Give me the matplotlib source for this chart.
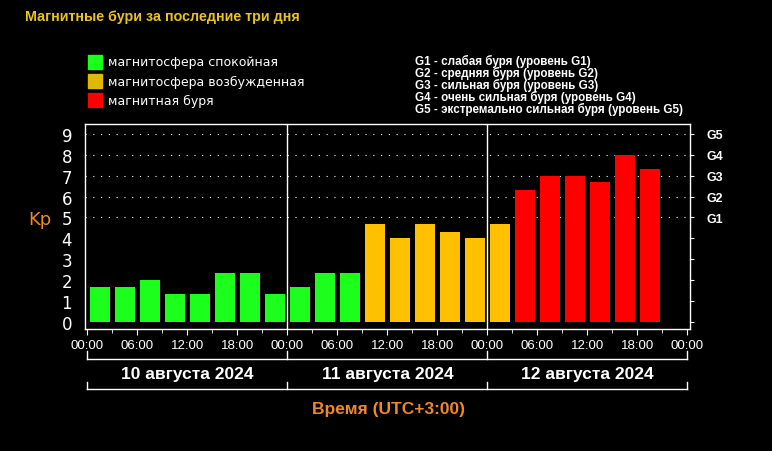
import matplotlib
matplotlib.use('Agg')
import matplotlib.pyplot as plt
from matplotlib.patches import Rectangle
import numpy as np

# Kp-индекс по трёхчасовым интервалам (UTC+3)
kp_day1 = [1.67, 1.67, 2.0, 1.33, 1.33, 2.33, 2.33, 1.33]
kp_day2 = [1.67, 2.33, 2.33, 4.67, 4.0, 4.67, 4.33, 4.0]
kp_day3 = [4.67, 6.33, 7.0, 7.0, 6.67, 8.0, 7.33]
day_labels = ['10 августа 2024', '11 августа 2024', '12 августа 2024']
hour_labels = ['00:00', '06:00', '12:00', '18:00']
g_labels = ['G1', 'G2', 'G3', 'G4', 'G5']
legend_labels = ['магнитосфера спокойная', 'магнитосфера возбужденная', 'магнитная буря']
g_legend = ['G1 - слабая буря (уровень G1)',
            'G2 - средняя буря (уровень G2)',
            'G3 - сильная буря (уровень G3)',
            'G4 - очень сильная буря (уровень G4)',
            'G5 - экстремально сильная буря (уровень G5)']

GREEN = '#1cff1c'
YELLOW = '#ffc000'
RED = '#ff0000'
ORANGE = '#f0882a'

W, H = 772, 452


def px(x, y):
    # пиксели картинки -> координаты фигуры
    return x / W, 1 - y / H


def kp_color(v):
    if v >= 5:
        return RED
    if v >= 4:
        return YELLOW
    return GREEN


kp = kp_day1 + kp_day2 + kp_day3
hours = 1.5 + 3 * np.arange(len(kp))
colors = [kp_color(v) for v in kp]

fig = plt.figure(figsize=(W / 100, H / 100), dpi=100, facecolor='black')
x0, y0 = px(84.7, 330)
x1, y1 = px(690, 125)
ax = fig.add_axes([x0, y0, x1 - x0, y1 - y0], facecolor='black')

ax.bar(hours, kp, width=2.4, color=colors, zorder=3)

for lvl in range(5, 10):
    ax.axhline(lvl, color='white', lw=0.8, linestyle=(0, (1, 6)), zorder=1)
for d in (24, 48):
    ax.axvline(d, color='white', lw=1, zorder=4)

ax.set_xlim(-0.3, 72.3)
ax.set_ylim(-0.32, 9.46)

for sp in ax.spines.values():
    sp.set_color('white')
    sp.set_linewidth(1)

ax.set_yticks(range(10))
ax.tick_params(axis='y', left=True, length=0, pad=9, labelcolor='white',
               labelsize=12)
ax.set_xticks(np.arange(0, 73, 6))
ax.set_xticklabels(hour_labels * 3 + ['00:00'])
ax.set_xticks(np.arange(0, 73, 3), minor=True)
ax.tick_params(axis='x', which='major', length=4, color='white', pad=3.5,
               labelcolor='white', labelsize=9.5)
ax.tick_params(axis='x', which='minor', length=3, color='white')
for lab in ax.get_xticklabels():
    lab.set_fontfamily('Liberation Sans')

ax2 = ax.twinx()
ax2.set_ylim(ax.get_ylim())
ax2.set_yticks(range(10))
ax2.set_yticklabels([''] * 5 + g_labels)
ax2.tick_params(axis='y', length=3, color='white', pad=9, labelcolor='white',
                labelsize=9)
for lab in ax2.get_yticklabels():
    lab.set_fontfamily('Liberation Sans')
    lab.set_fontweight('bold')
for sp in ax2.spines.values():
    sp.set_visible(False)

# скобки с датами под осью
xt = ax.get_xaxis_transform()
ax_h = 330 - 125
for top, bot in ((352, 360), (383, 390)):
    yb = (330 - bot) / ax_h
    yt = (330 - top) / ax_h
    ax.plot([0, 72], [yb, yb], color='white', lw=1, transform=xt, clip_on=False)
    for d in (0, 24, 48, 72):
        ax.plot([d, d], [yt, yb], color='white', lw=1, transform=xt, clip_on=False)
for i, lab in enumerate(day_labels):
    ax.text(12 + 24 * i, (330 - 375) / ax_h, lab, transform=xt, ha='center',
            va='center', color='white', fontsize=12.5, fontweight='bold',
            family='Liberation Sans')

fig.text(*px(389, 410), 'Время (UTC+3:00)', ha='center', va='center',
         color=ORANGE, fontsize=12.5, fontweight='bold', family='Liberation Sans')
fig.text(*px(40, 220), 'Kp', ha='center', va='center', color=ORANGE, fontsize=13)

fig.text(*px(25, 17), 'Магнитные бури за последние три дня', ha='left',
         va='center', color='#e8c420', fontsize=10.3, fontweight='bold',
         family='Liberation Sans')

for i, (lab, c) in enumerate(zip(legend_labels, [GREEN, '#e0b800', RED])):
    yc = 63 + 19 * i
    rx, ry = px(88, yc + 7)
    fig.add_artist(Rectangle((rx, ry), 14 / W, 14 / H, color=c,
                             transform=fig.transFigure))
    fig.text(*px(108, yc), lab, ha='left', va='center', color='white',
             fontsize=9)

for i, lab in enumerate(g_legend):
    fig.text(*px(415, 61.5 + 12 * i), lab, ha='left', va='center',
             color='white', fontsize=8.4, fontweight='bold',
             family='Liberation Sans')

fig.savefig('out.png', dpi=100, facecolor='black')
